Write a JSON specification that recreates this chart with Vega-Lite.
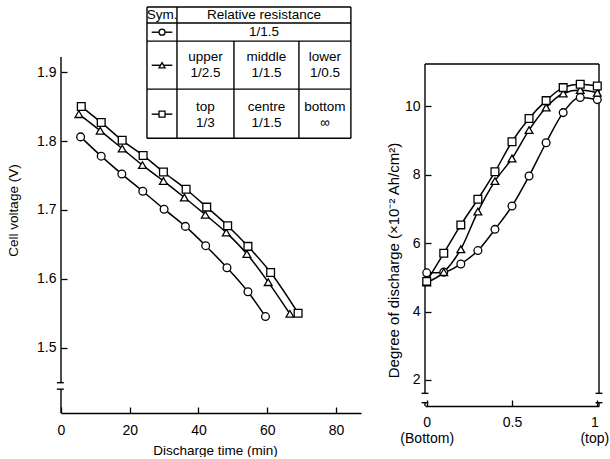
{
  "$schema": "https://vega.github.io/schema/vega-lite/v6.json",
  "padding": {"left": 6, "top": 6, "right": 0, "bottom": 0},
  "spacing": 64,
  "bounds": "flush",
  "center": true,
  "config": {
    "font": "Liberation Sans",
    "view": {"stroke": null},
    "axis": {
      "grid": false,
      "labelFont": "Liberation Sans",
      "labelFontSize": 14,
      "labelColor": "#000",
      "titleFont": "Liberation Sans",
      "titleFontSize": 13.5,
      "titleFontWeight": "normal",
      "titleColor": "#000",
      "domainColor": "#000",
      "domainWidth": 1.5,
      "tickColor": "#000",
      "tickWidth": 1.3,
      "tickSize": -6,
      "labelFlush": false,
      "labelOverlap": false
    }
  },
  "datasets": {
    "left": [
      {"s": "circle", "t": 5.7, "v": 1.806}, {"s": "circle", "t": 11.7, "v": 1.778}, {"s": "circle", "t": 17.7, "v": 1.752}, {"s": "circle", "t": 23.8, "v": 1.727}, {"s": "circle", "t": 30.0, "v": 1.701}, {"s": "circle", "t": 36.2, "v": 1.676}, {"s": "circle", "t": 42.1, "v": 1.648}, {"s": "circle", "t": 48.3, "v": 1.616}, {"s": "circle", "t": 54.4, "v": 1.581}, {"s": "circle", "t": 59.5, "v": 1.545},
      {"s": "triangle", "t": 5.2, "v": 1.839}, {"s": "triangle", "t": 11.4, "v": 1.815}, {"s": "triangle", "t": 17.8, "v": 1.789}, {"s": "triangle", "t": 23.7, "v": 1.765}, {"s": "triangle", "t": 29.8, "v": 1.742}, {"s": "triangle", "t": 35.9, "v": 1.718}, {"s": "triangle", "t": 42.0, "v": 1.693}, {"s": "triangle", "t": 48.1, "v": 1.667}, {"s": "triangle", "t": 54.1, "v": 1.636}, {"s": "triangle", "t": 60.3, "v": 1.595}, {"s": "triangle", "t": 66.6, "v": 1.549},
      {"s": "square", "t": 5.9, "v": 1.850}, {"s": "square", "t": 11.7, "v": 1.827}, {"s": "square", "t": 17.8, "v": 1.801}, {"s": "square", "t": 23.9, "v": 1.779}, {"s": "square", "t": 29.8, "v": 1.755}, {"s": "square", "t": 36.4, "v": 1.730}, {"s": "square", "t": 42.4, "v": 1.704}, {"s": "square", "t": 48.5, "v": 1.677}, {"s": "square", "t": 54.4, "v": 1.647}, {"s": "square", "t": 61.0, "v": 1.609}, {"s": "square", "t": 69.0, "v": 1.550}
    ],
    "right": [
      {"s": "circle", "p": 0.0, "d": 5.13}, {"s": "circle", "p": 0.1, "d": 5.15}, {"s": "circle", "p": 0.2, "d": 5.39}, {"s": "circle", "p": 0.3, "d": 5.78}, {"s": "circle", "p": 0.4, "d": 6.40}, {"s": "circle", "p": 0.5, "d": 7.08}, {"s": "circle", "p": 0.6, "d": 7.96}, {"s": "circle", "p": 0.7, "d": 8.93}, {"s": "circle", "p": 0.8, "d": 9.81}, {"s": "circle", "p": 0.9, "d": 10.25}, {"s": "circle", "p": 1.0, "d": 10.19},
      {"s": "triangle", "p": 0.0, "d": 4.85}, {"s": "triangle", "p": 0.1, "d": 5.15}, {"s": "triangle", "p": 0.2, "d": 5.82}, {"s": "triangle", "p": 0.3, "d": 6.92}, {"s": "triangle", "p": 0.4, "d": 7.81}, {"s": "triangle", "p": 0.5, "d": 8.47}, {"s": "triangle", "p": 0.6, "d": 9.30}, {"s": "triangle", "p": 0.7, "d": 9.96}, {"s": "triangle", "p": 0.8, "d": 10.37}, {"s": "triangle", "p": 0.9, "d": 10.47}, {"s": "triangle", "p": 1.0, "d": 10.39},
      {"s": "square", "p": 0.0, "d": 4.88}, {"s": "square", "p": 0.1, "d": 5.70}, {"s": "square", "p": 0.2, "d": 6.53}, {"s": "square", "p": 0.3, "d": 7.28}, {"s": "square", "p": 0.4, "d": 8.08}, {"s": "square", "p": 0.5, "d": 8.96}, {"s": "square", "p": 0.6, "d": 9.64}, {"s": "square", "p": 0.7, "d": 10.16}, {"s": "square", "p": 0.8, "d": 10.54}, {"s": "square", "p": 0.9, "d": 10.64}, {"s": "square", "p": 1.0, "d": 10.59}
    ],
    "leftRules": [
      {"x": 0, "x2": 0, "y": 1.449, "y2": 1.922},
      {"x": 0, "x2": 0, "y": 1.405, "y2": 1.4396},
      {"x": -1.2, "x2": 0.8, "y": 1.449, "y2": 1.449},
      {"x": -1.2, "x2": 0.8, "y": 1.4396, "y2": 1.4396},
      {"x": 25.02, "x2": 84.36, "y": 1.9946, "y2": 1.9946},
      {"x": 25.02, "x2": 84.36, "y": 1.9713, "y2": 1.9713},
      {"x": 25.02, "x2": 84.36, "y": 1.9451, "y2": 1.9451},
      {"x": 25.02, "x2": 84.36, "y": 1.8753, "y2": 1.8753},
      {"x": 25.02, "x2": 84.36, "y": 1.8039, "y2": 1.8039},
      {"x": 25.02, "x2": 25.02, "y": 1.8039, "y2": 1.9946},
      {"x": 84.36, "x2": 84.36, "y": 1.8039, "y2": 1.9946},
      {"x": 33.75, "x2": 33.75, "y": 1.8039, "y2": 1.9946},
      {"x": 50.33, "x2": 50.33, "y": 1.8039, "y2": 1.9451},
      {"x": 69.24, "x2": 69.24, "y": 1.8039, "y2": 1.9451},
      {"x": 26.4, "x2": 32.4, "y": 1.958, "y2": 1.958},
      {"x": 26.4, "x2": 32.4, "y": 1.910, "y2": 1.910},
      {"x": 26.4, "x2": 32.4, "y": 1.839, "y2": 1.839}
    ],
    "tableSym": [
      {"s": "circle", "x": 29.4, "y": 1.958},
      {"s": "triangle", "x": 29.4, "y": 1.910},
      {"s": "square", "x": 29.4, "y": 1.839}
    ],
    "tableText": [
      {"x": 29.4, "y": 1.983, "label": "Sym."},
      {"x": 59.05, "y": 1.983, "label": "Relative resistance"},
      {"x": 59.05, "y": 1.958, "label": "1/1.5"},
      {"x": 42.04, "y": 1.9218, "label": "upper"},
      {"x": 42.04, "y": 1.8985, "label": "1/2.5"},
      {"x": 59.78, "y": 1.9218, "label": "middle"},
      {"x": 59.78, "y": 1.8985, "label": "1/1.5"},
      {"x": 76.8, "y": 1.9218, "label": "lower"},
      {"x": 76.8, "y": 1.8985, "label": "1/0.5"},
      {"x": 42.04, "y": 1.849, "label": "top"},
      {"x": 42.04, "y": 1.8258, "label": "1/3"},
      {"x": 59.78, "y": 1.849, "label": "centre"},
      {"x": 59.78, "y": 1.8258, "label": "1/1.5"},
      {"x": 76.8, "y": 1.849, "label": "bottom"},
      {"x": 76.8, "y": 1.8258, "label": "∞"}
    ],
    "rightRules": [
      {"x": -0.01, "x2": 1.01, "y": 11.23, "y2": 11.23},
      {"x": -0.01, "x2": -0.01, "y": 1.61, "y2": 11.23},
      {"x": -0.01, "x2": -0.01, "y": 1.24, "y2": 1.337},
      {"x": 1.01, "x2": 1.01, "y": 1.61, "y2": 11.23},
      {"x": 1.01, "x2": 1.01, "y": 1.24, "y2": 1.337},
      {"x": -0.03, "x2": 0.01, "y": 1.61, "y2": 1.61},
      {"x": -0.03, "x2": 0.01, "y": 1.337, "y2": 1.337},
      {"x": 0.99, "x2": 1.03, "y": 1.61, "y2": 1.61},
      {"x": 0.99, "x2": 1.03, "y": 1.337, "y2": 1.337}
    ]
  },
  "hconcat": [
    {
      "width": 300,
      "height": 356,
      "layer": [
        {
          "data": {"name": "leftRules"},
          "mark": {"type": "rule", "color": "#000", "strokeWidth": 1.4, "clip": false},
          "encoding": {
            "x": {"field": "x", "type": "quantitative", "scale": {"domain": [0, 87.3], "nice": false, "zero": false},
                  "axis": {"values": [0, 20, 40, 60, 80], "title": "Discharge time (min)", "titleX": 154, "titleY": 37, "titleBaseline": "middle", "labelPadding": 16}},
            "x2": {"field": "x2"},
            "y": {"field": "y", "type": "quantitative", "scale": {"domain": [1.405, 1.922], "nice": false, "zero": false},
                  "axis": {"values": [1.5, 1.6, 1.7, 1.8, 1.9], "format": ".1f", "domain": false, "title": "Cell voltage (V)", "titleX": -48, "titleY": 153, "titleAlign": "center", "titleBaseline": "middle", "titleAngle": -90, "labelPadding": 11}},
            "y2": {"field": "y2"}
          }
        },
        {
          "data": {"name": "left"},
          "mark": {"type": "line", "color": "#000", "strokeWidth": 1.5, "interpolate": "monotone"},
          "encoding": {
            "x": {"field": "t", "type": "quantitative"},
            "y": {"field": "v", "type": "quantitative"},
            "detail": {"field": "s"}
          }
        },
        {
          "data": {"name": "left"},
          "mark": {"type": "point", "filled": true, "fill": "#fff", "stroke": "#000", "strokeWidth": 1.3, "opacity": 1},
          "encoding": {
            "x": {"field": "t", "type": "quantitative"},
            "y": {"field": "v", "type": "quantitative"},
            "shape": {"field": "s", "type": "nominal", "scale": {"domain": ["circle", "triangle", "square"], "range": ["circle", "triangle-up", "square"]}, "legend": null},
            "size": {"value": 60}
          }
        },
        {
          "data": {"name": "tableSym"},
          "mark": {"type": "point", "filled": true, "fill": "#fff", "stroke": "#000", "strokeWidth": 1.3, "opacity": 1, "clip": false},
          "encoding": {
            "x": {"field": "x", "type": "quantitative"},
            "y": {"field": "y", "type": "quantitative"},
            "shape": {"field": "s", "type": "nominal", "legend": null},
            "size": {"value": 36}
          }
        },
        {
          "data": {"name": "tableText"},
          "mark": {"type": "text", "font": "Liberation Sans", "fontSize": 13.5, "color": "#000", "align": "center", "baseline": "middle", "clip": false},
          "encoding": {
            "x": {"field": "x", "type": "quantitative"},
            "y": {"field": "y", "type": "quantitative"},
            "text": {"field": "label"}
          }
        }
      ]
    },
    {
      "width": 174,
      "height": 342,
      "layer": [
        {
          "data": {"name": "rightRules"},
          "mark": {"type": "rule", "color": "#000", "strokeWidth": 1.4, "clip": false},
          "encoding": {
            "x": {"field": "x", "type": "quantitative", "scale": {"domain": [-0.01, 1.01], "nice": false, "zero": false},
                  "axis": {"values": [0, 0.5, 1], "title": null, "labelPadding": 15, "labelLineHeight": 16,
                           "labelOffset": {"condition": {"test": "datum.value == 1", "value": -3}, "value": 0},
                           "labelExpr": "datum.value == 0 ? ['0', '(Bottom)'] : datum.value == 1 ? ['1', '(top)'] : '0.5'"}},
            "x2": {"field": "x2"},
            "y": {"field": "y", "type": "quantitative", "scale": {"domain": [1.24, 11.23], "nice": false, "zero": false},
                  "axis": {"values": [2, 4, 6, 8, 10], "domain": false, "title": "Degree of discharge (×10⁻² Ah/cm²)", "titleFontSize": 15, "titleX": -32, "titleY": 196, "titleAlign": "center", "titleBaseline": "middle", "titleAngle": -90, "labelPadding": 11}},
            "y2": {"field": "y2"}
          }
        },
        {
          "data": {"name": "right"},
          "mark": {"type": "line", "color": "#000", "strokeWidth": 1.5, "interpolate": "monotone"},
          "encoding": {
            "x": {"field": "p", "type": "quantitative"},
            "y": {"field": "d", "type": "quantitative"},
            "detail": {"field": "s"}
          }
        },
        {
          "data": {"name": "right"},
          "mark": {"type": "point", "filled": true, "fill": "#fff", "stroke": "#000", "strokeWidth": 1.3, "opacity": 1},
          "encoding": {
            "x": {"field": "p", "type": "quantitative"},
            "y": {"field": "d", "type": "quantitative"},
            "shape": {"field": "s", "type": "nominal", "scale": {"domain": ["circle", "triangle", "square"], "range": ["circle", "triangle-up", "square"]}, "legend": null},
            "size": {"value": 60}
          }
        }
      ]
    }
  ]
}
